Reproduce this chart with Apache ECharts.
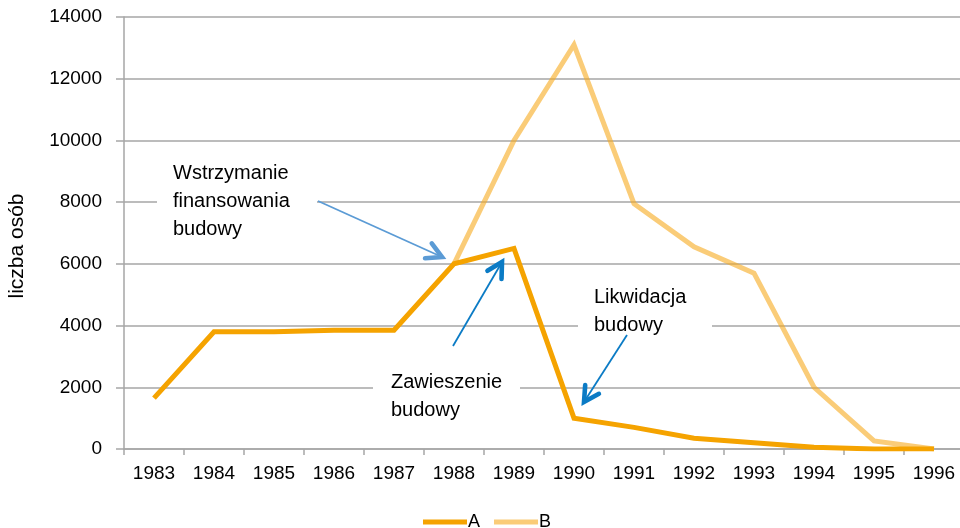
<!DOCTYPE html>
<html>
<head>
<meta charset="utf-8">
<script src="https://cdn.jsdelivr.net/npm/echarts@6/dist/echarts.min.js"></script>
<style>html,body{margin:0;padding:0;background:#fff}#c{width:960px;height:528px}</style>
</head>
<body>
<div id="c"></div>
<script>
const categories = ['1983','1984','1985','1986','1987','1988','1989','1990','1991','1992','1993','1994','1995','1996'];
const seriesA = [1650, 3800, 3800, 3850, 3850, 6000, 6500, 1000, 700, 350, 200, 60, 0, 0];
const seriesB = [null, null, null, null, null, 6000, 10000, 13100, 7950, 6550, 5700, 2000, 260, 0];
const yTicks = { min: 0, max: 14000, interval: 2000 };
const yName = 'liczba osób';

const FONT = '"Liberation Sans", Arial, sans-serif';
const grayLine = '#a6a6a6';

function arrow(x1, y1, x2, y2, color, w, head) {
  const ang = Math.atan2(y2 - y1, x2 - x1);
  const a1 = ang + Math.PI - 0.5, a2 = ang + Math.PI + 0.5;
  return [
    { type: 'line', z: 100, shape: { x1, y1, x2, y2 }, style: { stroke: color, lineWidth: w } },
    { type: 'polyline', z: 100, shape: { points: [
        [x2 + head * Math.cos(a1), y2 + head * Math.sin(a1)], [x2, y2],
        [x2 + head * Math.cos(a2), y2 + head * Math.sin(a2)]] },
      style: { stroke: color, lineWidth: w + 2.8, fill: null, lineJoin: 'miter', lineCap: 'round' } }
  ];
}
function label(x, y, text, bx, bw) {
  return [
    { type: 'rect', z: 90, shape: { x: bx, y: y - 4, width: bw, height: text.split('\n').length * 28 + 6 }, style: { fill: '#fff' } },
    { type: 'text', z: 95, left: x, top: y, style: { text, fill: '#000', font: '20px ' + FONT, lineHeight: 28 } }
  ];
}

const chart = echarts.init(document.getElementById('c'));
chart.setOption({
  animation: false,
  backgroundColor: '#fff',
  grid: { left: 124, right: -4, top: 17, bottom: 79, containLabel: false, outerBoundsMode: 'none' },
  legend: {
    left: 418, top: 508, icon: 'rect', itemWidth: 44, itemHeight: 5, itemGap: 14,
    textStyle: { fontFamily: FONT, fontSize: 18, color: '#000', padding: [0, 0, 0, -4] },
    data: ['A', 'B']
  },
  xAxis: {
    type: 'category', data: categories, boundaryGap: true,
    axisLine: { lineStyle: { color: grayLine, width: 1.5 } },
    axisTick: { show: true, length: 6, lineStyle: { color: grayLine, width: 1.5 } },
    axisLabel: { color: '#000', fontFamily: FONT, fontSize: 19, margin: 15, interval: 0 }
  },
  yAxis: {
    type: 'value', min: yTicks.min, max: yTicks.max, interval: yTicks.interval,
    name: yName, nameLocation: 'middle', nameGap: 96, nameRotate: 90,
    nameTextStyle: { color: '#000', fontFamily: FONT, fontSize: 21, padding: [0, 26, 0, 0] },
    axisLine: { show: true, lineStyle: { color: grayLine, width: 1.5 } },
    axisTick: { show: true, length: 8, lineStyle: { color: grayLine, width: 1.5 } },
    axisLabel: { color: '#000', fontFamily: FONT, fontSize: 19, margin: 22, formatter: v => String(v) },
    splitLine: { lineStyle: { color: grayLine, width: 1.5 } }
  },
  series: [
    { name: 'A', type: 'line', data: seriesA, symbol: 'none', z: 4,
      lineStyle: { color: '#f5a300', width: 5, join: 'miter' }, itemStyle: { color: '#f5a300' } },
    { name: 'B', type: 'line', data: seriesB, symbol: 'none', z: 3,
      lineStyle: { color: 'rgba(247,170,30,0.6)', width: 5, join: 'miter' }, itemStyle: { color: 'rgba(247,170,30,0.6)' } }
  ],
  graphic: [].concat(
    label(173, 159, 'Wstrzymanie\nfinansowania\nbudowy', 157, 160),
    label(391, 368, 'Zawieszenie\nbudowy', 373, 147),
    label(594, 283, 'Likwidacja\nbudowy', 578, 134),
    arrow(318, 201, 442, 257, '#5b9bd5', 1.8, 17),
    arrow(453, 346, 502, 262, '#0b7bc5', 1.8, 17),
    arrow(627, 335, 584, 402, '#0b7bc5', 1.8, 17)
  )
});
</script>
</body>
</html>
